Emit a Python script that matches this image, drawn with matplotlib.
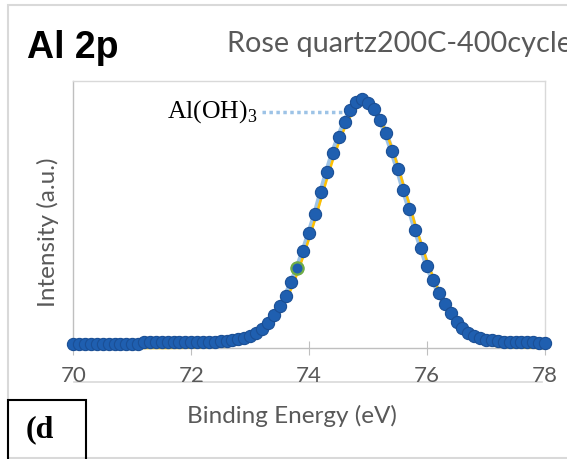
import matplotlib
matplotlib.use("Agg")
import matplotlib.pyplot as plt
from matplotlib.lines import Line2D
from matplotlib.patches import Rectangle

plt.rcParams['mathtext.fontset'] = 'custom'
plt.rcParams['mathtext.rm'] = 'Liberation Serif'

# measured spectrum (0.1 eV steps)
energy = [70.0, 70.1, 70.2, 70.3, 70.4, 70.5, 70.6, 70.7, 70.8, 70.9,
          71.0, 71.1, 71.2, 71.3, 71.4, 71.5, 71.6, 71.7, 71.8, 71.9,
          72.0, 72.1, 72.2, 72.3, 72.4, 72.5, 72.6, 72.7, 72.8, 72.9,
          73.0, 73.1, 73.2, 73.3, 73.4, 73.5, 73.6, 73.7, 73.8, 73.9,
          74.0, 74.1, 74.2, 74.3, 74.4, 74.5, 74.6, 74.7, 74.8, 74.9,
          75.0, 75.1, 75.2, 75.3, 75.4, 75.5, 75.6, 75.7, 75.8, 75.9,
          76.0, 76.1, 76.2, 76.3, 76.4, 76.5, 76.6, 76.7, 76.8, 76.9,
          77.0, 77.1, 77.2, 77.3, 77.4, 77.5, 77.6, 77.7, 77.8, 77.9,
          78.0]
intensity = [48, 48, 48, 48, 48, 48, 48, 48, 48, 48,
             48, 48, 60, 60, 60, 60, 60, 60, 60, 60,
             60, 61, 63, 63, 66, 70, 75, 81, 90, 103,
             123, 150, 190, 250, 330, 423, 526, 660, 806, 976,
             1156, 1343, 1560, 1766, 1956, 2116, 2266, 2383, 2460, 2490,
             2456, 2390, 2283, 2150, 1976, 1790, 1583, 1393, 1183, 1006,
             823, 683, 550, 443, 356, 266, 206, 156, 123, 100,
             88, 80, 73, 68, 66, 63, 63, 60, 60, 58,
             58]

# fitted envelope, fit region 71.2-78.0 eV
fit_energy = energy[12:]
fit = [3, 3, 3, 3, 3, 4, 4, 5, 6,
       7, 9, 11, 14, 18, 24, 32, 43, 58,
       78, 105, 142, 195, 270, 360, 470, 600, 750, 920,
       1100, 1290, 1490, 1690, 1880, 2050, 2200, 2320, 2400, 2440,
       2440, 2380, 2290, 2170, 2010, 1830, 1630, 1440, 1230, 1050,
       870, 715, 575, 455, 355, 270, 200, 145, 100, 68,
       45, 30, 20, 14, 10, 8, 6, 5, 5, 4,
       4]

highlight_energy = 73.8
xticks = [70, 72, 74, 76, 78]

fig = plt.figure(figsize=(5.67, 4.59), dpi=100)
W, H = 567, 459
ax = fig.add_axes([73.3 / W, 1 - 348.3 / H, (545 - 73.3) / W, (348.3 - 80.5) / H])

ax.plot(energy, intensity, color='#9DC3E6', lw=4, zorder=2, clip_on=False)
ax.plot(fit_energy, fit, color='#FFC000', lw=1.8, zorder=3, clip_on=False)
ax.plot(energy, intensity, 'o', ms=8.8, mfc='#1F5FB0', mec='#1B4F95', mew=0.8,
        zorder=4, clip_on=False)
hi = energy.index(highlight_energy)
ax.plot(energy[hi], intensity[hi], 'o', ms=8.8, mfc='#1F5FB0', mec='#70AD47',
        mew=1.6, zorder=5, clip_on=False)

# peak label with dotted leader
ax.plot([73.2, 74.75], [2363, 2363], color='#9DC3E6', lw=2.5, ls=(0, (1, 1)),
        zorder=3, solid_capstyle='butt')
ax.text(73.13, 2363, r'Al(OH)$_\mathrm{3}$', family='Liberation Serif',
        fontsize=18.5, ha='right', va='center', color='black')

ax.set_xlim(70, 78)
ax.set_ylim(0, 2678)
ax.set_xticks(xticks)
ax.set_yticks([])
ax.tick_params(axis='x', direction='inout', length=10, color='#BFBFBF',
               labelcolor='#595959', labelsize=16, pad=8)
for lab in ax.get_xticklabels():
    lab.set_family('Lato')
for side in ['top', 'right']:
    ax.spines[side].set_color('#D9D9D9')
for side in ['left', 'bottom']:
    ax.spines[side].set_color('#BFBFBF')
for sp in ax.spines.values():
    sp.set_linewidth(1.0)

ax.set_xlabel('Binding Energy (eV)', family='Lato', fontsize=17.5,
              color='#595959')
ax.xaxis.set_label_coords(0.4636, -0.212)
ax.set_ylabel('Intensity (a.u.)', family='Lato', fontsize=17.5,
              color='#595959')
ax.yaxis.set_label_coords(-0.03, 0.434)

# line through the tick labels
fig.add_artist(Line2D([74 / W, 542 / W], [1 - 381.7 / H] * 2,
                      transform=fig.transFigure, color='#D9D9D9', lw=1.2, zorder=0))

# outer frame and panel tag
fig.add_artist(Rectangle((8 / W, 1 - 458 / H), 1.0, (458 - 5) / H, fill=False,
                         ec='#D9D9D9', lw=1.5, transform=fig.transFigure, zorder=0))
fig.add_artist(Rectangle((8 / W, -0.05), (86 - 8) / W, (459 - 400) / H + 0.05,
                         fill=False, ec='black', lw=1.5, transform=fig.transFigure))
fig.text(26 / W, 1 - 430 / H, '(d', family='Liberation Serif', fontweight='bold',
         fontsize=23, ha='left', va='center')

fig.text(27 / W, 1 - 58 / H, 'Al 2p', family='Liberation Sans', fontweight='bold',
         fontsize=27, ha='left', va='baseline')
fig.text(227 / W, 1 - 52 / H, 'Rose quartz200C-400cycle', family='Lato',
         fontsize=20.8, color='#595959', ha='left', va='baseline')

fig.savefig('out.png', dpi=100)
